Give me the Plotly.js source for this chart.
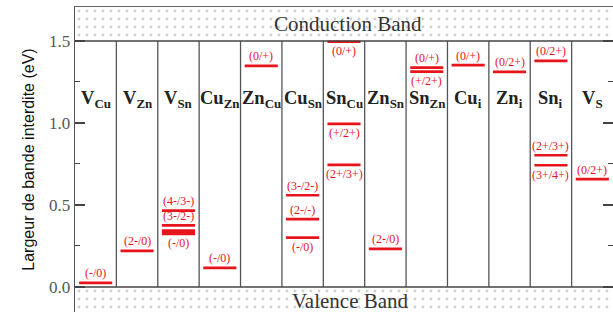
<!DOCTYPE html>
<html>
<head>
<meta charset="utf-8">
<script src="https://cdn.plot.ly/plotly-3.0.1.min.js"></script>
<style>html,body{margin:0;padding:0;background:#fff;}#chart{width:613px;height:312px;}</style>
</head>
<body>
<div id="chart"></div>
<script>
// ---- data ----
const defectBase = ['V','V','V','Cu','Zn','Cu','Sn','Zn','Sn','Cu','Zn','Sn','V'];
const defectSub  = ['Cu','Zn','Sn','Zn','Cu','Sn','Cu','Sn','Zn','i','i','i','S'];

const levelDefect = [0, 1, 2, 2, 2, 3, 4, 5, 5, 5, 6, 6, 6, 7, 8, 8, 9, 10, 11, 11, 11, 12];
const levelEnergy = [0.025, 0.22, 0.465, 0.375, 0.333, 0.116, 1.348, 0.559, 0.413, 0.30,
                     1.495, 0.994, 0.744, 0.232, 1.337, 1.313, 1.352, 1.311, 1.378, 0.803, 0.742, 0.657];
const levelLabel  = ['(-/0)','(2-/0)','(4-/3-)','(3-/2-)','(-/0)','(-/0)','(0/+)','(3-/2-)','(2-/-)','(-/0)',
                     '(0/+)','(+/2+)','(2+/3+)','(2-/0)','(0/+)','(+/2+)','(0/+)','(0/2+)','(0/2+)','(2+/3+)','(3+/4+)','(0/2+)'];

const bandGapEdges = [0.0, 1.5];      // valence band top, conduction band bottom (eV)
const bandNames = ['Valence Band', 'Conduction Band'];
const yTicks = [0.0, 0.5, 1.0, 1.5];

// ---- presentation ----
const labelBelow = [false,false,false,false,true,false,false,false,false,true,
                    true,true,true,false,false,true,false,false,false,false,true,false];
const thickLevel = [false,false,false,false,true,false,false,false,false,false,
                    false,false,false,false,false,false,false,false,false,false,false,false];

const yMin = -0.153, yMax = 1.707;
const nCol = defectBase.length;
const red = '#e8141c';
const serif = 'Liberation Serif, Times New Roman, serif';

const traces = [];
// band regions with dotted pattern
traces.push({
  type: 'bar',
  x: [nCol / 2, nCol / 2],
  base: [yMin - 0.05, bandGapEdges[1]],
  y: [bandGapEdges[0] - yMin + 0.05, yMax - bandGapEdges[1] + 0.05],
  width: [nCol, nCol],
  marker: {color: '#ffffff', line: {width: 0},
    pattern: {shape: '.', fgcolor: '#cfcfcf', bgcolor: '#ffffff', size: 8, solidity: 0.1}},
  hoverinfo: 'skip', showlegend: false
});

// levels
const lx = [], ly = [], tx = [], ty = [];
levelEnergy.forEach((e, k) => {
  const i = levelDefect[k];
  if (thickLevel[k]) { tx.push(i + 0.1, i + 0.9, null); ty.push(e, e, null); }
  else { lx.push(i + 0.1, i + 0.9, null); ly.push(e, e, null); }
});
traces.push({type: 'scatter', mode: 'lines', x: lx, y: ly, line: {color: red, width: 2.7},
  hoverinfo: 'skip', showlegend: false});
traces.push({type: 'scatter', mode: 'lines', x: tx, y: ty, line: {color: red, width: 6},
  hoverinfo: 'skip', showlegend: false});

const shapes = [];
// column dividers
for (let i = 1; i < nCol; i++) {
  shapes.push({type: 'line', xref: 'x', yref: 'y', x0: i, x1: i, y0: bandGapEdges[0], y1: bandGapEdges[1],
    line: {color: '#555', width: 1.3}, layer: 'below'});
}
// band edges
bandGapEdges.forEach(v => shapes.push({type: 'line', xref: 'paper', yref: 'y', x0: 0, x1: 1, y0: v, y1: v,
  line: {color: '#444', width: 1.5}}));

const annotations = [];
// level labels
levelEnergy.forEach((e, k) => {
  const i = levelDefect[k];
  const below = labelBelow[k];
  annotations.push({x: i + 0.5, y: e, xref: 'x', yref: 'y', text: levelLabel[k], showarrow: false,
    yanchor: below ? 'top' : 'bottom', yshift: below ? (thickLevel[k] ? -3 : -1.5) : 1.5, borderpad: 0,
    font: {family: serif, size: 12, color: red}});
});
// defect names
defectBase.forEach((b, i) => {
  annotations.push({x: i + 0.5, y: 1.14, xref: 'x', yref: 'y', showarrow: false,
    text: '<b>' + b + '<sub>' + defectSub[i] + '</sub></b>',
    font: {family: serif, size: 18.5, color: '#222'}});
});
// band names
annotations.push({x: 0.5, xref: 'paper', y: (bandGapEdges[1] + yMax) / 2, yref: 'y', text: bandNames[1],
  showarrow: false, xshift: 4, font: {family: serif, size: 21, color: '#333'}});
annotations.push({x: 0.5, xref: 'paper', y: -0.085, yref: 'y', text: bandNames[0],
  showarrow: false, xshift: 6, font: {family: serif, size: 21, color: '#333'}});

const layout = {
  width: 613, height: 312,
  margin: {l: 75, r: 0, t: 7, b: 0},
  paper_bgcolor: '#ffffff', plot_bgcolor: '#ffffff',
  barmode: 'overlay',
  showlegend: false,
  xaxis: {range: [0, nCol], showgrid: false, zeroline: false, showticklabels: false, ticks: '',
    showline: true, mirror: true, linecolor: '#666', linewidth: 1.2, fixedrange: true},
  yaxis: {range: [yMin, yMax], showgrid: false, zeroline: false,
    tickvals: yTicks, ticktext: yTicks.map(v => v.toFixed(1)),
    ticks: 'inside', ticklen: 10, tickwidth: 1.3, tickcolor: '#444', mirror: 'ticks',
    minor: {dtick: 0.25, tick0: 0, ticks: 'inside', ticklen: 5, tickwidth: 1, tickcolor: '#444'},
    showline: true, linecolor: '#555', linewidth: 1.3,
    tickfont: {family: serif, size: 17, color: '#555'},
    title: {text: 'Largeur de bande interdite (eV)', standoff: 10,
      font: {family: 'Liberation Sans, Arial, sans-serif', size: 16, color: '#111'}},
    fixedrange: true},
  shapes: shapes,
  annotations: annotations
};

Plotly.newPlot('chart', traces, layout, {staticPlot: true, displayModeBar: false});
</script>
</body>
</html>
